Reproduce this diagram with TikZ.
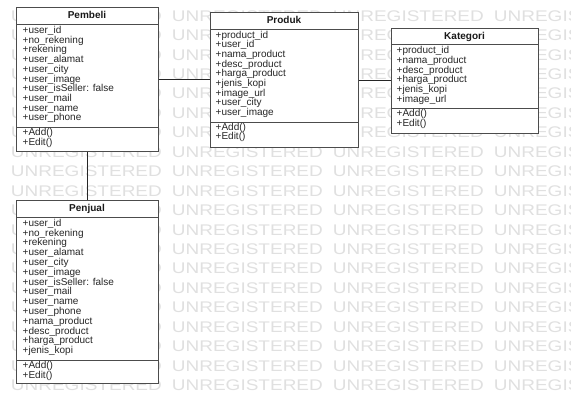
\documentclass[tikz,border=0pt]{standalone}
\usepackage{fontspec}
\setmainfont{Liberation Sans}
\newcommand{\tightlines}{\lineskiplimit=-5pt\relax}
\newcommand{\fs}{\rule{0pt}{8pt}}
\newcommand{\wmword}{\scalebox{1.234}[1]{UNREGISTERED}}
\begin{document}
\begin{tikzpicture}[x=1pt,y=-1pt,
  wm/.style={anchor=base west,inner sep=0,text=black!12,font=\fontsize{15.4}{16}\selectfont},
  classbox/.style={draw=black!70,fill=white,line width=0.7pt,inner sep=0,anchor=north west},
  divline/.style={draw=black!70,line width=0.6pt},
  ttl/.style={anchor=base,inner sep=0,font=\fontsize{10}{12}\selectfont\bfseries,text=black!90},
  itm/.style={anchor=north west,inner sep=0,align=left,text=black!85,
    font={\fontsize{10}{9.7}\selectfont\tightlines}},
  itmwide/.style={itm,font={\fontsize{10}{9.8}\selectfont\tightlines}},
  conn/.style={draw=black!85,line width=0.7pt}]
\useasboundingbox (0,0) rectangle (571,394);
\fill[white] (0,0) rectangle (571,394);

% ---------- watermark ----------
\begin{scope}
\clip (0,0) rectangle (571,394);
\foreach \r in {-8,...,11}{
  \foreach \c in {0,...,3}{
    \node[wm] (wm-\c-\r) at ({10.7+161*\c},{176.7+19.45*\r}) {\wmword};
  }
}
\end{scope}

% ---------- Pembeli ----------
\node[classbox,minimum width=142pt,minimum height=144pt] (pembeli) at (16,7) {};
\draw[divline] (pembeli.west |- 0,24) -- (pembeli.east |- 0,24);
\draw[divline] (pembeli.west |- 0,127) -- (pembeli.east |- 0,127);
\node[ttl] (pembeli-t) at (87,18.5) {Pembeli};
\node[itm] (pembeli-a) at (22.5,25.3) {\fs+user\_id\\+no\_rekening\\+rekening\\+user\_alamat\\+user\_city\\+user\_image\\+user\_isSeller: false\\+user\_mail\\+user\_name\\+user\_phone};
\node[itm] (pembeli-m) at (22.5,127.7) {\fs+Add()\\+Edit()};

% ---------- Produk ----------
\node[classbox,minimum width=148pt,minimum height=135pt] (produk) at (210,12) {};
\draw[divline] (produk.west |- 0,29) -- (produk.east |- 0,29);
\draw[divline] (produk.west |- 0,122) -- (produk.east |- 0,122);
\node[ttl] (produk-t) at (284,23.5) {Produk};
\node[itm] (produk-a) at (215.5,29.8) {\fs+product\_id\\+user\_id\\+nama\_product\\+desc\_product\\+harga\_product\\+jenis\_kopi\\+image\_url\\+user\_city\\+user\_image};
\node[itm] (produk-m) at (215.5,122) {\fs+Add()\\+Edit()};

% ---------- Kategori ----------
\node[classbox,minimum width=147pt,minimum height=105pt] (kategori) at (391,28) {};
\draw[divline] (kategori.west |- 0,44) -- (kategori.east |- 0,44);
\draw[divline] (kategori.west |- 0,108) -- (kategori.east |- 0,108);
\node[ttl] (kategori-t) at (464.5,39) {Kategori};
\node[itm] (kategori-a) at (396.5,45.5) {\fs+product\_id\\+nama\_product\\+desc\_product\\+harga\_product\\+jenis\_kopi\\+image\_url};
\node[itm] (kategori-m) at (396.5,108.7) {\fs+Add()\\+Edit()};

% ---------- Penjual ----------
\node[classbox,minimum width=142pt,minimum height=183pt] (penjual) at (16,200) {};
\draw[divline] (penjual.west |- 0,217.3) -- (penjual.east |- 0,217.3);
\draw[divline] (penjual.west |- 0,360.5) -- (penjual.east |- 0,360.5);
\node[ttl] (penjual-t) at (87,211.5) {Penjual};
\node[itmwide] (penjual-a) at (22.5,218) {\fs+user\_id\\+no\_rekening\\+rekening\\+user\_alamat\\+user\_city\\+user\_image\\+user\_isSeller: false\\+user\_mail\\+user\_name\\+user\_phone\\+nama\_product\\+desc\_product\\+harga\_product\\+jenis\_kopi};
\node[itm] (penjual-m) at (22.5,360.5) {\fs+Add()\\+Edit()};

% ---------- connectors ----------
\draw[conn] (pembeli.east) -- (pembeli.east -| produk.west);
\draw[conn] (produk.east) -- (produk.east -| kategori.west);
\draw[conn] (pembeli.south) -- (penjual.north);
\end{tikzpicture}
\end{document}
